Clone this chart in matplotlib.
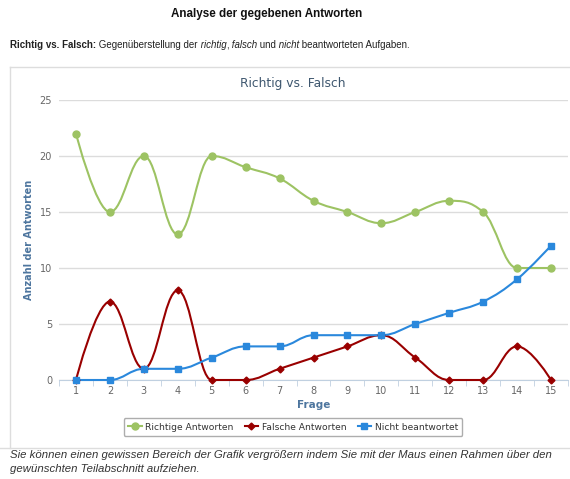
import numpy as np
import matplotlib
matplotlib.use("Agg")
import matplotlib.pyplot as plt
from matplotlib.path import Path
from matplotlib.patches import PathPatch
from matplotlib.lines import Line2D

# data
fragen = list(range(1, 16))
richtig = [22, 15, 20, 13, 20, 19, 18, 16, 15, 14, 15, 16, 15, 10, 10]
falsch = [0, 7, 1, 8, 0, 0, 1, 2, 3, 4, 2, 0, 0, 3, 0]
nicht = [0, 0, 1, 1, 2, 3, 3, 4, 4, 4, 5, 6, 7, 9, 12]
serien = ["Richtige Antworten", "Falsche Antworten", "Nicht beantwortet"]

W, H = 570, 479


def fx(x):
    return x / W


def fy(y):
    return 1 - y / H


def spline_path(xs, ys, smoothing=1.5):
    # highcharts-style spline: bezier segments through the points
    n = len(xs)
    denom = smoothing + 1
    right = [None] * n
    left = [None] * n
    for i in range(1, n - 1):
        px, py = xs[i], ys[i]
        lx, ly = xs[i - 1], ys[i - 1]
        nx, ny = xs[i + 1], ys[i + 1]
        lcx = (smoothing * px + lx) / denom
        lcy = (smoothing * py + ly) / denom
        rcx = (smoothing * px + nx) / denom
        rcy = (smoothing * py + ny) / denom
        corr = ((rcy - lcy) * (rcx - px)) / (rcx - lcx) + py - rcy
        lcy += corr
        rcy += corr
        if lcy > ly and lcy > py:
            lcy = max(ly, py)
            rcy = 2 * py - lcy
        elif lcy < ly and lcy < py:
            lcy = min(ly, py)
            rcy = 2 * py - lcy
        if rcy > ny and rcy > py:
            rcy = max(ny, py)
            lcy = 2 * py - rcy
        elif rcy < ny and rcy < py:
            rcy = min(ny, py)
            lcy = 2 * py - rcy
        left[i] = (lcx, lcy)
        right[i] = (rcx, rcy)
    verts = [(xs[0], ys[0])]
    codes = [Path.MOVETO]
    for i in range(1, n):
        c1 = right[i - 1] or (xs[i - 1], ys[i - 1])
        c2 = left[i] or (xs[i], ys[i])
        verts += [c1, c2, (xs[i], ys[i])]
        codes += [Path.CURVE4] * 3
    return Path(verts, codes)


fig = plt.figure(figsize=(W / 100, H / 100), dpi=100)

# page heading
fig.text(fx(267), fy(14), "Analyse der gegebenen Antworten", family="Liberation Sans",
         fontsize=8.4, fontweight="bold", ha="center", va="center", color="#111111")

# subtitle with mixed styles (spaces kept at the front of each piece)
renderer = fig.canvas.get_renderer()
teile = [("Richtig vs. Falsch:", "normal", "bold"), (" Gegenüberstellung der", "normal", "normal"),
         (" richtig", "italic", "normal"), (",", "normal", "normal"), (" falsch", "italic", "normal"),
         (" und", "normal", "normal"), (" nicht", "italic", "normal"),
         (" beantworteten Aufgaben.", "normal", "normal")]
x = fx(10)
for txt, stil, gewicht in teile:
    t = fig.text(x, fy(45), txt, family="Liberation Sans", fontsize=7, style=stil,
                 fontweight=gewicht, ha="left", va="center", color="#222222")
    bb = t.get_window_extent(renderer)
    x = bb.x1 / W

# container border and separator
fig.add_artist(Line2D([fx(10), fx(10)], [fy(67), fy(448)], color="#dddddd", lw=1))
fig.add_artist(Line2D([fx(10), fx(570)], [fy(67), fy(67)], color="#dddddd", lw=1))
fig.add_artist(Line2D([0, 1], [fy(448), fy(448)], color="#dddddd", lw=1))

fig.text(fx(293), fy(83), "Richtig vs. Falsch", fontsize=8.8, color="#3e576f",
         ha="center", va="center")

ax = fig.add_axes([fx(59), fy(380), fx(568) - fx(59), fy(100) - fy(380)])
ax.set_xlim(0.5, 15.5)
ax.set_ylim(0, 25)

farben = ["#9dc363", "#990000", "#2a88dc"]
marker = ["o", "D", "s"]
msize = [5, 3.5, 5]
for werte, farbe, m, ms, name in zip([richtig, falsch, nicht], farben, marker, msize, serien):
    ax.add_patch(PathPatch(spline_path(fragen, werte), facecolor="none", edgecolor=farbe,
                           lw=1.5, clip_on=False, zorder=3))
    ax.plot(fragen, werte, linestyle="none", marker=m, markersize=ms, color=farbe,
            markeredgecolor=farbe, clip_on=False, zorder=4)

ax.set_yticks([0, 5, 10, 15, 20, 25])
ax.yaxis.grid(True, color="#dcdcdc", lw=1)
ax.set_axisbelow(True)
ax.set_xticks(fragen)
ax.set_xticks(np.arange(0.5, 16, 1), minor=True)
ax.tick_params(axis="x", which="major", length=0, labelsize=7, labelcolor="#666666", pad=4)
ax.tick_params(axis="x", which="minor", length=4, color="#c0d0e0", direction="out")
ax.tick_params(axis="y", length=0, labelsize=7, labelcolor="#666666", pad=5)
for s in ["top", "right", "left"]:
    ax.spines[s].set_visible(False)
ax.spines["bottom"].set_color("#c0d0e0")

ax.set_xlabel("Frage", fontsize=7.5, fontweight="bold", color="#4d759e", labelpad=3)
ax.set_ylabel("Anzahl der Antworten", fontsize=7, fontweight="bold", color="#4d759e")
ax.yaxis.set_label_coords((34 - 59) / 509, 0.5)

handles = [Line2D([], [], color=f, marker=m, markersize=ms, lw=1.5) for f, m, ms in zip(farben, marker, msize)]
leg = fig.legend(handles, serien, loc="center", bbox_to_anchor=(fx(293), fy(427)), ncol=3,
                 fontsize=6.6, frameon=True, fancybox=True, edgecolor="#999999", handlelength=1.5,
                 handletextpad=0.4, columnspacing=1.2, borderpad=0.45, labelcolor="#333333")
leg.get_frame().set_linewidth(1)

fig.text(fx(10), fy(455), "Sie können einen gewissen Bereich der Grafik vergrößern indem Sie mit der Maus einen Rahmen über den",
         family="Liberation Sans", fontsize=8.2, style="italic", color="#333333", va="center")
fig.text(fx(10), fy(469), "gewünschten Teilabschnitt aufziehen.",
         family="Liberation Sans", fontsize=8.2, style="italic", color="#333333", va="center")

fig.savefig("out.png", dpi=100)
